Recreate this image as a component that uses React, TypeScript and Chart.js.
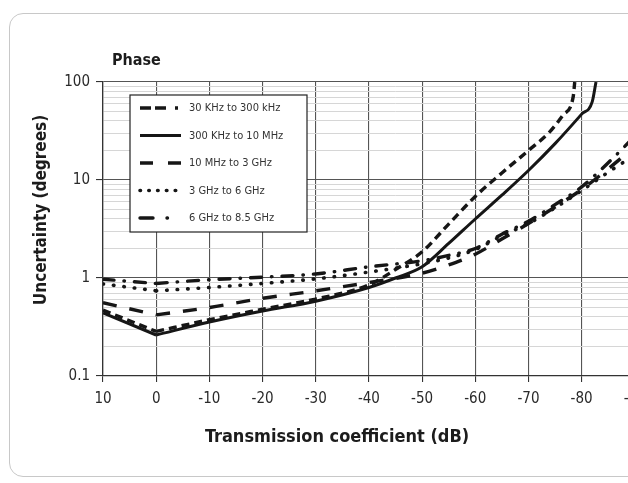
import React, { useEffect, useRef } from 'react';
import { Chart, registerables } from 'chart.js';

Chart.register(...registerables);

// ---- data ----
const seriesLabels = [
  '30 KHz to 300 kHz',
  '300 KHz to 10 MHz',
  '10 MHz to 3 GHz',
  '3 GHz to 6 GHz',
  '6 GHz to 8.5 GHz',
];

const lowFreqX = [10, 0, -10, -20, -30, -40, -45, -50, -55, -60, -65, -70, -74, -76.5, -78.4, -78.7];
const lowFreqY = [0.47, 0.285, 0.375, 0.48, 0.61, 0.85, 1.22, 1.85, 3.55, 6.8, 11.8, 20, 31, 46, 70, 100];

const midFreqX = [10, 0, -10, -20, -30, -40, -45, -50, -55, -60, -65, -70, -75, -80, -82, -82.7];
const midFreqY = [0.44, 0.262, 0.355, 0.46, 0.58, 0.8, 1.0, 1.3, 2.25, 4.0, 7.0, 12.5, 23.5, 47, 63, 100];

const hiX = [10, 0, -10, -20, -30, -40, -50, -55, -60, -65, -70, -75, -80, -85, -90];
const rf3GHzY = [0.56, 0.42, 0.5, 0.62, 0.74, 0.9, 1.12, 1.36, 1.75, 2.5, 3.6, 5.3, 8.0, 13, 22];
const rf6GHzY = [0.87, 0.74, 0.8, 0.88, 0.98, 1.15, 1.4, 1.6, 1.95, 2.7, 3.6, 5.2, 7.8, 12, 18];
const rf85GHzY = [0.97, 0.88, 0.96, 1.02, 1.1, 1.3, 1.5, 1.7, 2.0, 2.8, 3.8, 5.6, 8.5, 15, 28];

const xTickValues = [10, 0, -10, -20, -30, -40, -50, -60, -70, -80, -90, -100];
const yTickValues = [0.1, 1, 10, 100];
const yTickLabels = ['0.1', '1', '10', '100'];

const chartTitle = 'Phase';
const xTitle = 'Transmission coefficient (dB)';
const yTitle = 'Uncertainty (degrees)';

// ---- styles ----
const FONT = '"Liberation Sans Narrow", "DejaVu Sans Condensed", "Liberation Sans", Arial, sans-serif';
const INK = '#161616';

const pts = (xs: number[], ys: number[]) => xs.map((x, i) => ({ x, y: ys[i] }));

const isMajor = (v: number) => {
  const l = Math.log10(v);
  return Math.abs(l - Math.round(l)) < 1e-6;
};

// Each curve has a sharp corner at 0 dB: draw it as two smooth pieces.
const splitAtZero = (xs: number[], ys: number[], style: any, label: string) => {
  const all = pts(xs, ys);
  const left = all.filter((p) => p.x >= 0);
  const right = all.filter((p) => p.x <= 0);
  return [
    { ...style, label, data: right, showInLegend: true },
    { ...style, label, data: left, showInLegend: false },
  ];
};

const overlayPlugin = {
  id: 'overlay',
  afterDatasetsDraw(chart: any) {
    const { ctx, chartArea: a } = chart;
    ctx.save();
    // titles
    ctx.fillStyle = '#1c1c1c';
    ctx.textBaseline = 'middle';
    ctx.font = `bold 16px ${FONT}`;
    ctx.textAlign = 'left';
    ctx.fillText(chartTitle, a.left + 9, a.top - 21);
    ctx.font = `bold 18px ${FONT}`;
    ctx.textAlign = 'center';
    ctx.fillText(xTitle, a.left + 234, a.bottom + 61);
    ctx.save();
    ctx.translate(42, a.top + 128);
    ctx.rotate(-Math.PI / 2);
    ctx.font = `bold 17px ${FONT}`;
    ctx.fillText(yTitle, 0, 0);
    ctx.restore();

    // legend box
    const bx = a.left + 27;
    const by = a.top + 13;
    const bw = 177;
    const bh = 137;
    ctx.fillStyle = '#ffffff';
    ctx.fillRect(bx, by, bw, bh);
    ctx.strokeStyle = '#222';
    ctx.lineWidth = 1.2;
    ctx.strokeRect(bx, by, bw, bh);

    const entries = chart.data.datasets.filter((ds: any) => ds.showInLegend);
    entries.forEach((ds: any, i: number) => {
      const y = by + 13 + i * 27.5;
      ctx.save();
      ctx.strokeStyle = ds.borderColor;
      ctx.lineWidth = ds.borderWidth;
      ctx.lineCap = ds.borderCapStyle || 'butt';
      ctx.setLineDash(ds.legendDash || ds.borderDash || []);
      ctx.beginPath();
      ctx.moveTo(bx + 10, y);
      ctx.lineTo(bx + 51, y);
      ctx.stroke();
      ctx.restore();
      ctx.fillStyle = '#333';
      ctx.font = `11px ${FONT}`;
      ctx.textAlign = 'left';
      ctx.textBaseline = 'middle';
      ctx.fillText(ds.label, bx + 59, y + 0.5);
    });
    ctx.restore();
  },
};

export default function App() {
  const ref = useRef<HTMLCanvasElement | null>(null);

  useEffect(() => {
    if (!ref.current) return;
    const datasets = [
      ...splitAtZero(lowFreqX, lowFreqY, {
        borderColor: INK,
        borderWidth: 3.4,
        borderDash: [8, 5],
        legendDash: [11, 4, 11, 9, 3, 20],
      }, seriesLabels[0]),
      ...splitAtZero(midFreqX, midFreqY, {
        borderColor: INK,
        borderWidth: 3,
        borderJoinStyle: 'round',
      }, seriesLabels[1]),
      ...splitAtZero(hiX, rf3GHzY, {
        borderColor: INK,
        borderWidth: 3.4,
        borderDash: [14, 13],
        legendDash: [13, 15, 13, 20],
      }, seriesLabels[2]),
      ...splitAtZero(hiX, rf6GHzY, {
        borderColor: INK,
        borderWidth: 3.6,
        borderDash: [0.5, 10],
        borderCapStyle: 'round',
        legendDash: [0.5, 8.3],
      }, seriesLabels[3]),
      ...splitAtZero(hiX, rf85GHzY, {
        borderColor: INK,
        borderWidth: 3.4,
        borderDash: [11, 10, 0.5, 10],
        borderCapStyle: 'round',
        legendDash: [13, 14, 0.5, 20],
      }, seriesLabels[4]),
    ];
    const chart = new Chart(ref.current, {
      type: 'line',
      data: { datasets },
      options: {
        animation: false,
        responsive: false,
        devicePixelRatio: 1,
        parsing: false as any,
        elements: {
          point: { radius: 0, hoverRadius: 0 },
          line: { cubicInterpolationMode: 'monotone', fill: false },
        },
        layout: { padding: { left: 0, top: 82, right: 32, bottom: 0 } },
        plugins: {
          legend: { display: false },
          title: { display: false },
          tooltip: { enabled: false },
        },
        scales: {
          x: {
            type: 'linear',
            reverse: true,
            min: -100,
            max: 10,
            afterBuildTicks: (scale: any) => {
              scale.ticks = xTickValues.map((v) => ({ value: v }));
            },
            afterFit: (scale: any) => {
              scale.height = 107;
            },
            ticks: {
              autoSkip: false,
              maxRotation: 0,
              padding: 8,
              color: '#2a2a2a',
              font: { family: FONT, size: 15 },
              callback: (v: any) => String(v),
            },
            grid: {
              color: '#555',
              lineWidth: 1.1,
              tickLength: 6,
              tickColor: '#333',
            },
            border: { color: '#333', width: 1.3 },
          },
          y: {
            type: 'logarithmic',
            min: 0.1,
            max: 100,
            afterBuildTicks: (scale: any) => {
              const t: any[] = [];
              for (let d = -1; d <= 1; d++) {
                for (let m = 1; m <= 9; m++) t.push({ value: m * Math.pow(10, d) });
              }
              t.push({ value: 100 });
              scale.ticks = t;
            },
            afterFit: (scale: any) => {
              scale.width = 103;
            },
            ticks: {
              autoSkip: false,
              padding: 6,
              color: '#2a2a2a',
              font: { family: FONT, size: 15 },
              callback: (v: any) => {
                const idx = yTickValues.findIndex((t) => Math.abs(t - v) < 1e-9);
                return idx >= 0 ? yTickLabels[idx] : '';
              },
            },
            grid: {
              color: (c: any) => (c.tick && isMajor(c.tick.value) ? '#555' : '#d6d6d6'),
              lineWidth: (c: any) => (c.tick && isMajor(c.tick.value) ? 1.1 : 1),
              tickLength: 7,
              tickColor: (c: any) => (c.tick && isMajor(c.tick.value) ? '#333' : 'rgba(0,0,0,0)'),
            },
            border: { color: '#333', width: 1.3 },
          },
        },
      },
      plugins: [overlayPlugin],
    } as any);
    return () => chart.destroy();
  }, []);

  return (
    <div
      style={{
        position: 'fixed',
        left: 0,
        top: 0,
        width: 628,
        height: 483,
        overflow: 'hidden',
        background: '#fff',
      }}
    >
      <div
        style={{
          position: 'absolute',
          left: 9,
          top: 13,
          width: 720,
          height: 464,
          border: '1.5px solid #c8c8c8',
          borderRadius: 14,
          boxSizing: 'border-box',
        }}
      />
      <canvas
        ref={ref}
        width={720}
        height={483}
        style={{ position: 'absolute', left: 0, top: 0, width: 720, height: 483 }}
      />
    </div>
  );
}
